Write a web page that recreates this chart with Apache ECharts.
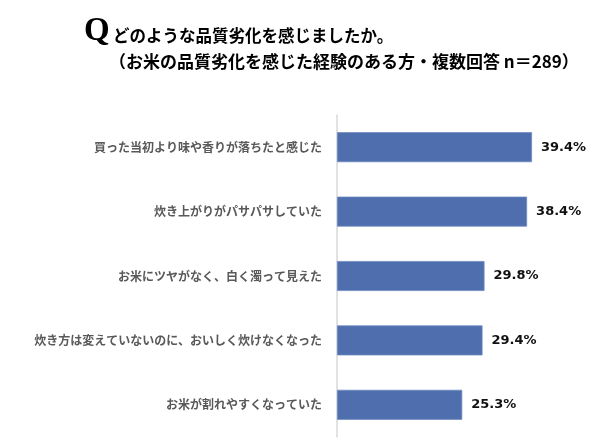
<html>
<head>
<meta charset="utf-8">
<title>品質劣化</title>
<script src="https://cdn.jsdelivr.net/npm/echarts@6/dist/echarts.min.js"></script>
<style>
	html, body { margin: 0; padding: 0; background: #fff; }
	#container { width: 612px; height: 444px; }
</style>
</head>
<body>
	<div id="container"></div>
	<script type="text/javascript">
		// 回答項目と割合(%)
		var categories = [
			'買った当初より味や香りが落ちたと感じた',
			'炊き上がりがパサパサしていた',
			'お米にツヤがなく、白く濁って見えた',
			'炊き方は変えていないのに、おいしく炊けなくなった',
			'お米が割れやすくなっていた'
		];
		var values = [39.4, 38.4, 29.8, 29.4, 25.3];

		var jp = "'Noto Sans CJK JP', sans-serif";
		var dom = document.getElementById("container");
		var myChart = echarts.init(dom);
		var option = {
			animation: false,
			title: [
				{
					text: 'Q', left: 79, top: 10,
					textStyle: { fontFamily: "'Liberation Serif', serif", fontSize: 33, fontWeight: 'bold', color: '#000' }
				},
				{
					text: 'どのような品質劣化を感じましたか。', left: 108, top: 22,
					textStyle: { fontFamily: jp, fontSize: 16.5, fontWeight: 'bold', color: '#000' }
				},
				{
					text: '（お米の品質劣化を感じた経験のある方・複数回答 n＝289）', left: 104, top: 48,
					textStyle: { fontFamily: jp, fontSize: 17, fontWeight: 'bold', color: '#000' }
				}
			],
			grid: { left: 337, top: 115, width: 247.5, height: 322 },
			xAxis: {
				type: 'value', min: 0, max: 50,
				show: false
			},
			yAxis: {
				type: 'category',
				inverse: true,
				data: categories,
				axisLine: { lineStyle: { color: '#D9D9D9', width: 1.5 } },
				axisTick: { length: 4, lineStyle: { color: '#D9D9D9' } },
				axisLabel: { margin: 15, color: '#595959', fontSize: 12, fontWeight: 'bold', fontFamily: jp }
			},
			series: [
				{
					type: 'bar',
					data: values,
					barWidth: 30,
					itemStyle: { color: '#4F6EAD', borderColor: '#6F8AC0', borderWidth: 0.8 },
					label: {
						show: true, position: 'right', distance: 9,
						formatter: '{c}%',
						color: '#111', fontSize: 13, fontWeight: 'bold',
						fontFamily: "'DejaVu Sans', sans-serif"
					}
				}
			]
		};
		myChart.setOption(option);
	</script>
</body>
</html>
